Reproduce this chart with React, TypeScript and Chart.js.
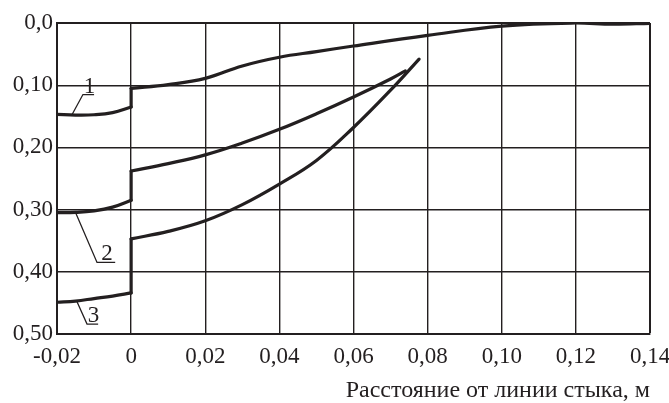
import React, { useEffect, useRef } from 'react';
import { Chart, registerables } from 'chart.js';

Chart.register(...registerables);

// ---- data ----
const xTicks = [-0.02, 0, 0.02, 0.04, 0.06, 0.08, 0.1, 0.12, 0.14];
const xTickLabels = ['-0,02', '0', '0,02', '0,04', '0,06', '0,08', '0,10', '0,12', '0,14'];
const yTicks = [0, 0.1, 0.2, 0.3, 0.4, 0.5];
const yTickLabels = ['0,0', '0,10', '0,20', '0,30', '0,40', '0,50'];
const xTitle = 'Расстояние от линии стыка, м';

// curve 1
const curve1LeftX = [-0.02, -0.015, -0.01, -0.005, 0];
const curve1LeftY = [0.147, 0.148, 0.1475, 0.144, 0.135];
const curve1RightX = [0, 0.01, 0.02, 0.03, 0.04, 0.05, 0.06, 0.08, 0.1, 0.12, 0.13, 0.14];
const curve1RightY = [0.105, 0.099, 0.089, 0.069, 0.055, 0.046, 0.037, 0.02, 0.005, 0.0, 0.002, 0.0005];

// curve 2
const curve2LeftX = [-0.02, -0.015, -0.01, -0.005, 0];
const curve2LeftY = [0.305, 0.3045, 0.302, 0.296, 0.285];
const curve2RightX = [0, 0.01, 0.02, 0.03, 0.04, 0.05, 0.06, 0.07, 0.074];
const curve2RightY = [0.238, 0.226, 0.212, 0.193, 0.171, 0.146, 0.119, 0.09, 0.077];

// curve 3
const curve3LeftX = [-0.02, -0.015, -0.01, -0.005, 0];
const curve3LeftY = [0.449, 0.447, 0.443, 0.439, 0.434];
const curve3RightX = [0, 0.01, 0.02, 0.03, 0.04, 0.05, 0.06, 0.07, 0.0777];
const curve3RightY = [0.347, 0.335, 0.318, 0.292, 0.259, 0.221, 0.168, 0.108, 0.058];

// curve labels (leader lines), in data units
const labelTexts = ['1', '2', '3'];
const labelCurveX = [-0.016, -0.015, -0.0146];
const labelCurveY = [0.148, 0.3045, 0.448];
const labelElbowX = [-0.013, -0.0092, -0.0119];
const labelElbowY = [0.115, 0.385, 0.484];
const labelEndX = [-0.01, -0.0043, -0.0089];

const INK = '#231f20';
const FONT = "'Liberation Serif', 'Times New Roman', serif";

const pts = (xs: number[], ys: number[]) => xs.map((x, i) => ({ x, y: ys[i] }));

const lineDs = (data: { x: number; y: number }[], smooth: boolean) => ({
  data,
  showLine: true,
  borderColor: INK,
  backgroundColor: INK,
  borderWidth: 3.2,
  pointRadius: 0,
  pointHoverRadius: 0,
  fill: false,
  tension: smooth ? 0.4 : 0,
  borderCapStyle: 'round',
  borderJoinStyle: 'round',
});

const labelPlugin = {
  id: 'curveLabels',
  afterDatasetsDraw(chart: any) {
    const { ctx, scales } = chart;
    const xs = scales.x;
    const ys = scales.y;
    ctx.save();
    ctx.strokeStyle = INK;
    ctx.fillStyle = INK;
    ctx.lineWidth = 1.3;
    ctx.font = `23px ${FONT}`;
    ctx.textAlign = 'center';
    ctx.textBaseline = 'alphabetic';
    labelTexts.forEach((t, i) => {
      const ax = xs.getPixelForValue(labelCurveX[i]);
      const ay = ys.getPixelForValue(labelCurveY[i]);
      const ex = xs.getPixelForValue(labelElbowX[i]);
      const ey = ys.getPixelForValue(labelElbowY[i]);
      const fx = xs.getPixelForValue(labelEndX[i]);
      ctx.beginPath();
      ctx.moveTo(ax, ay);
      ctx.lineTo(ex, ey);
      ctx.lineTo(fx, ey);
      ctx.stroke();
      ctx.fillText(t, (ex + fx) / 2 + 1, ey - 2);
    });
    ctx.restore();
  },
};

export default function App() {
  const ref = useRef<HTMLCanvasElement | null>(null);

  useEffect(() => {
    if (!ref.current) return;
    const chart = new Chart(ref.current, {
      type: 'scatter',
      data: {
        datasets: [
          lineDs(pts(curve1LeftX, curve1LeftY), true),
          lineDs([{ x: 0, y: curve1LeftY[curve1LeftY.length - 1] }, { x: 0, y: curve1RightY[0] }], false),
          lineDs(pts(curve1RightX, curve1RightY), true),
          lineDs(pts(curve2LeftX, curve2LeftY), true),
          lineDs([{ x: 0, y: curve2LeftY[curve2LeftY.length - 1] }, { x: 0, y: curve2RightY[0] }], false),
          lineDs(pts(curve2RightX, curve2RightY), true),
          lineDs(pts(curve3LeftX, curve3LeftY), true),
          lineDs([{ x: 0, y: curve3LeftY[curve3LeftY.length - 1] }, { x: 0, y: curve3RightY[0] }], false),
          lineDs(pts(curve3RightX, curve3RightY), true),
        ] as any,
      },
      options: {
        animation: false,
        responsive: false,
        events: [],
        layout: { padding: { top: 23, right: 19, left: 0, bottom: 0 } },
        plugins: {
          legend: { display: false },
          tooltip: { enabled: false },
          title: { display: false },
        },
        scales: {
          x: {
            type: 'linear',
            min: -0.02,
            max: 0.14,
            afterBuildTicks: (s: any) => {
              s.ticks = xTicks.map((v) => ({ value: v }));
            },
            afterFit: (s: any) => {
              s.height = 69;
              s.paddingLeft = 0;
              s.paddingRight = 0;
            },
            ticks: {
              autoSkip: false,
              maxRotation: 0,
              padding: 9,
              color: INK,
              font: { family: FONT, size: 23 },
              callback: (_v: any, i: number) => xTickLabels[i],
            },
            grid: {
              color: INK,
              drawTicks: false,
              lineWidth: (c: any) => (c.tick && Math.abs(c.tick.value - 0.14) < 1e-9 ? 2 : 1.4),
            },
            border: { display: true, color: INK, width: 2 },
            title: {
              display: true,
              text: xTitle,
              align: 'end',
              color: INK,
              font: { family: FONT, size: 24, lineHeight: 1 },
              padding: { top: 0, bottom: 0 },
            },
          },
          y: {
            type: 'linear',
            reverse: true,
            min: 0,
            max: 0.5,
            afterBuildTicks: (s: any) => {
              s.ticks = yTicks.map((v) => ({ value: v }));
            },
            afterFit: (s: any) => {
              s.width = 57;
              s.paddingTop = 0;
              s.paddingBottom = 0;
            },
            ticks: {
              autoSkip: false,
              padding: 4,
              color: INK,
              font: { family: FONT, size: 23 },
              callback: (_v: any, i: number) => yTickLabels[i],
            },
            grid: {
              color: INK,
              drawTicks: false,
              lineWidth: (c: any) => (c.tick && Math.abs(c.tick.value) < 1e-9 ? 2 : 1.4),
            },
            border: { display: true, color: INK, width: 2 },
          },
        },
      } as any,
      plugins: [labelPlugin],
    });
    return () => chart.destroy();
  }, []);

  return (
    <div style={{ position: 'absolute', left: 0, top: 0, width: 669, height: 403, background: '#fff' }}>
      <canvas ref={ref} width={669} height={403} style={{ display: 'block', width: 669, height: 403 }} />
    </div>
  );
}
